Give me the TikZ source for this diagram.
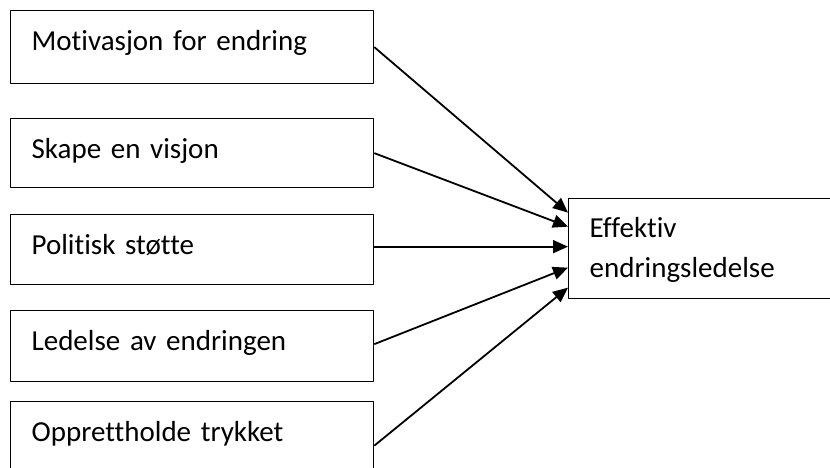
\documentclass[tikz,border=0pt]{standalone}
\usepackage{fontspec}
\setmainfont{Carlito}[Ligatures={NoCommon}]
\usetikzlibrary{arrows.meta}

\begin{document}
\begin{tikzpicture}[x=1pt, y=-1pt, font=\fontsize{29}{40}\selectfont, line join=round, >={Triangle[length=15pt,width=13pt]},
		boks/.style={draw, line width=1.3pt, anchor=north west, inner xsep=21pt, inner ysep=0pt, align=left, text width=321pt, text height=40pt},
		pil/.style={->, line width=1.8pt}]
		\useasboundingbox (0,0) rectangle (830,468);
		\clip (0,0) rectangle (830,468);
		% faktorer til venstre
		\node[boks, text depth=33pt] (motiv) at (10,10) {Motivasjon for endring};
		\node[boks, text depth=29pt] (visjon) at (10,118) {Skape en visjon};
		\node[boks, text depth=30pt] (stotte) at (10,214) {Politisk støtte};
		\node[boks, text depth=31pt] (ledelse) at (10,310) {Ledelse av endringen};
		\node[boks, text depth=48pt] (trykk) at (10,401) {Opprettholde trykket};
		% resultat til høyre
		\node[boks, text width=340pt, text height=39pt, text depth=61pt] (effektiv) at (568,198) {Effektiv\\endringsledelse};
		\draw[pil] (motiv.east) -- ([yshift=36pt]effektiv.west);
		\draw[pil] (visjon.east) -- ([yshift=22pt]effektiv.west);
		\draw[pil] ([yshift=3pt]stotte.east) -- ([yshift=2pt]effektiv.west);
		\draw[pil] ([yshift=2pt]ledelse.east) -- ([yshift=-19pt]effektiv.west);
		\draw[pil] (trykk.east) -- ([yshift=-39pt]effektiv.west);
	\end{tikzpicture}
\end{document}
